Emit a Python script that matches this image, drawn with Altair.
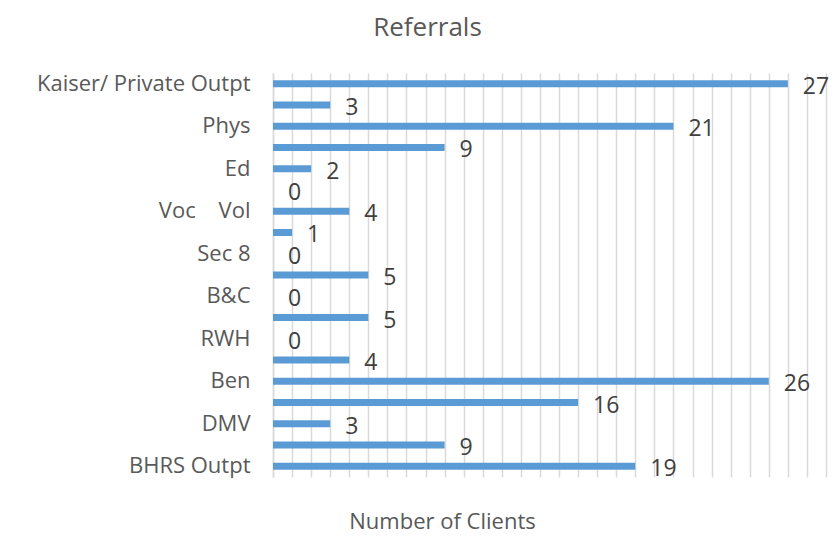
import altair as alt
import pandas as pd

categories = [
    "Kaiser/ Private Outpt", "_h1", "Phys\u00a0", "_h2", "Ed", "_h3", "Voc\u00a0\u00a0\u00a0\u00a0Vol", "_h4",
    "Sec 8\u00a0", "_h5", "B&C", "_h6", "RWH", "_h7", "Ben", "_h8", "DMV", "_h9", "BHRS Outpt",
]
values = [27, 3, 21, 9, 2, 0, 4, 1, 0, 5, 0, 5, 0, 4, 26, 16, 3, 9, 19]
x_ticks = list(range(0, 30))

df = pd.DataFrame({"category": categories, "clients": values})

FONT = "Open Sans"

y_enc = alt.Y(
    "category:N",
    sort=categories,
    scale=alt.Scale(paddingInner=0, paddingOuter=0),
    axis=alt.Axis(
        title=None,
        labelExpr="slice(datum.value, 0, 1) == '_' ? '' : datum.value",
        labelFontSize=22,
        labelColor="#595959",
        labelFont=FONT,
        labelPadding=23,
        labelLimit=0,
        ticks=False,
        domain=True,
        domainColor="#d9d9d9",
        domainWidth=1.5,
        grid=False,
    ),
)

x_enc = alt.X(
    "clients:Q",
    scale=alt.Scale(domain=[0, 29], nice=False, zero=True),
    axis=alt.Axis(
        values=x_ticks,
        grid=True,
        gridColor="#d9d9d9",
        gridWidth=1.5,
        labels=False,
        ticks=False,
        domain=False,
        title="Number of Clients",
        titleFont=FONT,
        titleFontSize=22,
        titleFontWeight="normal",
        titleColor="#595959",
        titleX=169,
        titleY=51,
        titleAlign="center",
        titleBaseline="alphabetic",
    ),
)

bars = alt.Chart(df).mark_bar(size=7, color="#5b9bd5").encode(x=x_enc, y=y_enc)
text = alt.Chart(df).mark_text(
    align="left", dx=15, dy=3, fontSize=23, color="#404040", font=FONT
).encode(x=x_enc, y=y_enc, text="clients:Q")

chart = (
    alt.layer(bars, text)
    .properties(
        width=553,
        height=404,
        autosize=alt.AutoSizeParams(type="none"),
        padding={"left": 265, "top": 65, "right": 5, "bottom": 58},
        title=alt.TitleParams(
            "Referrals",
            fontSize=26,
            font=FONT,
            fontWeight="normal",
            color="#595959",
            anchor="middle",
            baseline="alphabetic",
            offset=10,
            dx=-122,
        ),
    )
    .configure_view(stroke=None)
)

chart.save("out.html", embed_options={"renderer": "svg", "actions": False})
